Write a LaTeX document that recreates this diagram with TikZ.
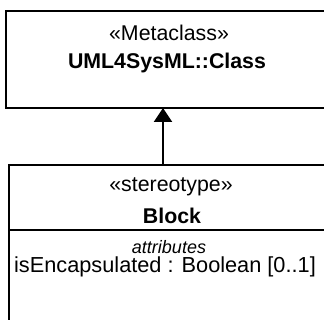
\documentclass[tikz,border=0pt]{standalone}
\usepackage{fontspec}
\setmainfont{Liberation Sans}
\usetikzlibrary{arrows.meta,positioning}

\begin{document}
\begin{tikzpicture}[
    x=0.75pt, y=-0.75pt,
    every node/.style = {font=\fontsize{16}{19}\selectfont, inner sep=0pt, outer sep=0pt},
    umlbox/.style = {
        rectangle,
        draw,
        line width=1.1pt,
        minimum width=244pt
    },
    caption/.style = {font=\fontsize{16}{19}\selectfont\bfseries},
    compart/.style = {font=\fontsize{13.5}{16}\selectfont\itshape},
    extension/.style = {
        -{Triangle[length=10.5pt,width=13.5pt]},
        line width=1.5pt
    }
]
\useasboundingbox (0,0) rectangle (324,320);
\clip (0,0) rectangle (324,320);

% metaclass
\node[umlbox, minimum width=243pt, minimum height=72.75pt] (metaclass) at (168,59.5) {};
\node (metastereo) at (169,33) {«Metaclass»};
\node[caption] (metaname) at (167,63) {UML4SysML::Class};

% stereotype
\node[umlbox, minimum width=244.5pt, minimum height=131.25pt] (block) at (172,252.5) {};
\node (blockstereo) at (171,187) {«stereotype»};
\node[caption] (blockname) at (172,216) {Block};
\coordinate (split) at (0,230);
\draw[line width=1.1pt] (split -| block.west) -- (split -| block.east);
\node[compart] (attrhead) at (169,247) {attributes};
\node[font=\fontsize{16.3}{19}\selectfont] (attr) at (165,267) {isEncapsulated : Boolean [0..1]};

\coordinate (joint) at (163,0);
\draw[extension] (joint |- block.north) -- (joint |- metaclass.south);

\end{tikzpicture}
\end{document}
